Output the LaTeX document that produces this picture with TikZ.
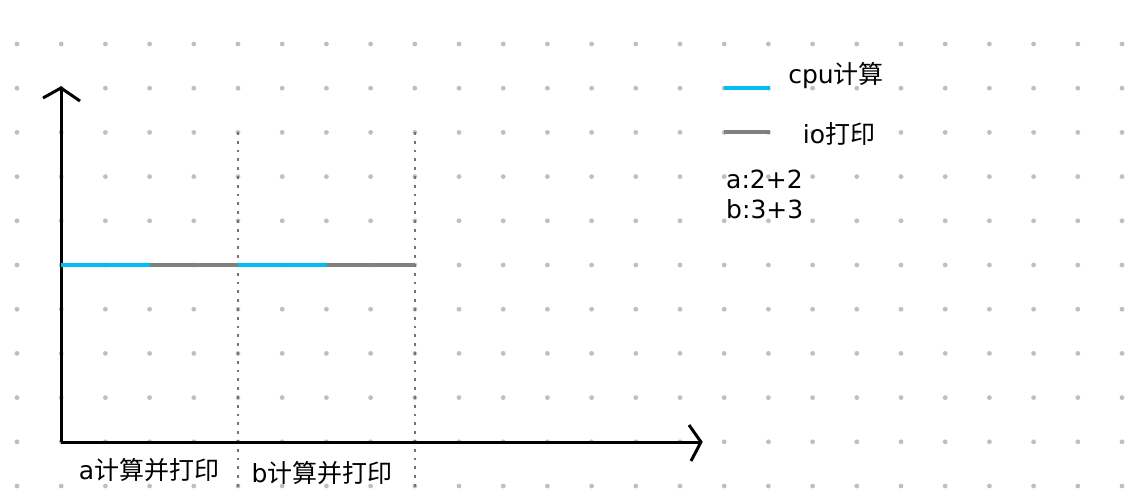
\documentclass[tikz,border=0pt]{standalone}
\usepackage{fontspec}
\setmainfont{DejaVu Sans}
\newfontfamily\cjk{Noto Sans CJK SC}
\begin{document}
\begin{tikzpicture}[x=1pt,y=-1pt,
  gdot/.style={fill=gray!50,draw=none},
  axis/.style={line width=3pt,black},
  tip/.style={line width=3pt,black,line join=miter},
  sep/.style={line width=2.8pt,gray!90!black,dash pattern=on 2.8pt off 6pt},
  cpu/.style={line width=3.2pt,color={rgb,255:red,0;green,190;blue,240}},
  io/.style={line width=3.2pt,color={rgb,255:red,128;green,128;blue,128}},
  lbl/.style={font=\fontsize{25}{30}\selectfont,inner sep=0pt,text=black}]
\useasboundingbox (0,0) rectangle (1128,499);
\fill[white] (0,0) rectangle (1128,499);
% dot grid
\foreach \i in {0,...,25}{
  \foreach \j in {0,...,10}{
    \fill[gdot] ({17+44.2*\i},{44+44.2*\j}) circle (2.4);
  }
}
% separators
\coordinate (s1t) at (238,132); \coordinate (s1b) at (238,490);
\coordinate (s2t) at (415,132); \coordinate (s2b) at (415,490);
\draw[sep] (s1t) -- (s1b);
\draw[sep] (s2t) -- (s2b);
% axes
\coordinate (o) at (61,442);
\coordinate (ytop) at (61,88);
\coordinate (xend) at (701,442);
\draw[axis] (o) -- (ytop);
\draw[axis] (o) -- (xend);
\draw[tip] (43,98) -- (ytop) -- (80,101);
\draw[tip] (689,425) -- (xend) -- (691,461);
% timeline
\coordinate (t0) at (61,265);
\coordinate (t1) at (150,265);
\coordinate (t2) at (238,265);
\coordinate (t3) at (327,265);
\coordinate (t4) at (415,265);
\draw[cpu] (t0) -- (t1);
\draw[io] (t1) -- (t2);
\draw[cpu] (t2) -- (t3);
\draw[io] (t3) -- (t4);
% legend
\coordinate (l1a) at (724,88); \coordinate (l1b) at (770,88);
\coordinate (l2a) at (724,132); \coordinate (l2b) at (770,132);
\draw[cpu] (l1a) -- (l1b);
\draw[io] (l2a) -- (l2b);
\node[lbl] (cpu) at (836,76) {cpu{\cjk 计算}};
\node[lbl] (io) at (839,134) {io{\cjk 打印}};
\node[lbl,anchor=west] (a) at (726,179) {a:2+2};
\node[lbl,anchor=west] (b) at (726,209) {b:3+3};
% x labels
\node[lbl] (la) at (149,470) {a{\cjk 计算并打印}};
\node[lbl] (lb) at (322,473) {b{\cjk 计算并打印}};
\end{tikzpicture}
\end{document}
